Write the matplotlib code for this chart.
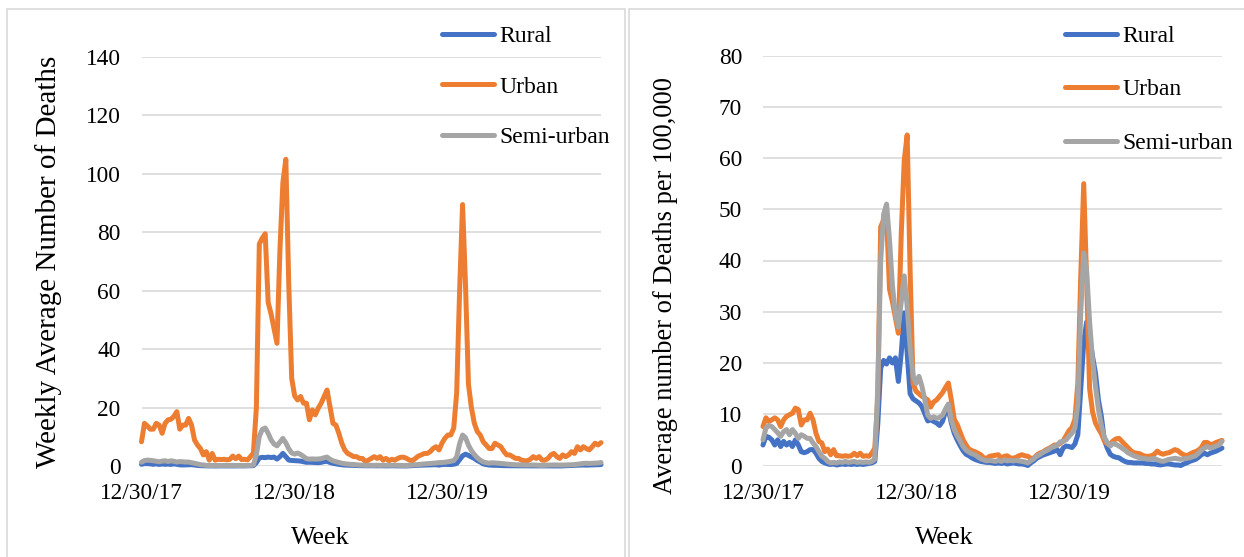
import matplotlib
matplotlib.use("Agg")
import matplotlib.pyplot as plt
from matplotlib.patches import Rectangle
import numpy as np

plt.rcParams['font.family'] = ['Liberation Serif', 'DejaVu Serif']

# weekly series, first week = 12/30/17
tick_weeks = [0, 52, 104]
tick_labels = ['12/30/17', '12/30/18', '12/30/19']
series_names = ['Rural', 'Urban', 'Semi-urban']
colors = ['#4472C4', '#ED7D31', '#A5A5A5']

# left chart: weekly average number of deaths
rural_count = [
    0.58, 0.83, 0.80, 0.73, 0.58, 0.73, 0.54, 0.68, 0.58, 0.65,
    0.54, 0.73, 0.58, 0.39, 0.36, 0.39, 0.45, 0.45, 0.35, 0.20,
    0.12, 0.07, 0.04, 0.03, 0.04, 0.01, 0.03, 0.04, 0.03, 0.04,
    0.03, 0.04, 0.03, 0.04, 0.03, 0.04, 0.06, 0.07, 0.12, 1.16,
    2.76, 2.97, 2.87, 3.05, 2.90, 3.05, 2.38, 3.19, 4.32, 3.19,
    2.03, 1.89, 1.83, 1.77, 1.67, 1.46, 1.26, 1.29, 1.25, 1.20,
    1.13, 1.25, 1.52, 1.60, 1.20, 0.91, 0.73, 0.57, 0.42, 0.32,
    0.28, 0.22, 0.17, 0.15, 0.12, 0.10, 0.09, 0.09, 0.07, 0.06,
    0.07, 0.06, 0.07, 0.04, 0.06, 0.07, 0.06, 0.04, 0.04, 0.03,
    0.00, 0.07, 0.13, 0.20, 0.25, 0.29, 0.32, 0.35, 0.38, 0.41,
    0.45, 0.30, 0.49, 0.55, 0.54, 0.51, 0.61, 0.87, 2.18, 3.48,
    4.06, 3.63, 3.09, 2.61, 1.86, 1.39, 0.73, 0.49, 0.32, 0.26,
    0.23, 0.22, 0.16, 0.12, 0.09, 0.09, 0.07, 0.07, 0.07, 0.07,
    0.06, 0.06, 0.04, 0.04, 0.03, 0.01, 0.03, 0.04, 0.04, 0.03,
    0.01, 0.01, 0.00, 0.04, 0.07, 0.12, 0.15, 0.17, 0.23, 0.30,
    0.35, 0.30, 0.35, 0.38, 0.41, 0.45, 0.49]
urban_count = [
    8.3, 14.6, 13.7, 12.6, 12.6, 14.6, 14.0, 11.2, 14.6, 15.8,
    16.0, 17.0, 18.6, 12.6, 14.0, 14.0, 16.3, 14.0, 8.9, 7.2,
    6.0, 3.8, 4.9, 2.0, 4.3, 2.0, 2.3, 2.2, 2.3, 2.1,
    2.3, 3.4, 2.5, 3.4, 2.2, 2.3, 2.1, 3.2, 4.5, 20.0,
    76.0, 78.0, 79.5, 56.0, 52.0, 47.0, 42.0, 74.0, 97.0, 105.0,
    62.0, 30.0, 24.0, 22.6, 23.8, 21.5, 21.5, 15.8, 19.2, 17.5,
    19.8, 21.5, 23.8, 26.0, 20.3, 14.6, 14.0, 11.2, 7.8, 5.5,
    4.3, 3.8, 3.2, 3.2, 2.6, 2.6, 1.5, 2.0, 2.6, 3.2,
    2.6, 3.2, 2.0, 2.6, 1.8, 2.3, 2.0, 2.6, 3.0, 3.0,
    2.6, 2.0, 1.8, 2.6, 3.4, 3.8, 4.3, 4.3, 4.9, 6.0,
    6.6, 5.5, 7.8, 9.5, 10.6, 10.6, 13.0, 25.0, 60.0, 89.5,
    62.0, 28.0, 20.0, 14.6, 11.8, 10.6, 8.3, 7.2, 6.0, 6.0,
    7.8, 7.2, 6.6, 5.0, 3.8, 3.8, 3.2, 2.6, 2.6, 2.0,
    1.8, 1.8, 2.3, 3.2, 2.6, 3.2, 2.0, 2.0, 2.6, 3.8,
    4.3, 3.2, 2.6, 3.8, 3.2, 3.8, 4.9, 4.3, 6.6, 5.5,
    6.6, 6.0, 5.5, 6.6, 7.8, 7.2, 8.0]
semi_count = [
    1.28, 1.86, 1.99, 1.94, 1.79, 1.63, 1.45, 1.68, 1.79, 1.53,
    1.79, 1.61, 1.35, 1.53, 1.45, 1.35, 1.35, 1.12, 0.94, 0.69,
    0.46, 0.36, 0.20, 0.13, 0.15, 0.13, 0.18, 0.15, 0.20, 0.15,
    0.18, 0.20, 0.15, 0.18, 0.15, 0.18, 0.15, 0.20, 0.31, 3.83,
    10.2, 12.5, 13.0, 11.2, 8.93, 7.52, 6.89, 8.16, 9.44, 7.91,
    5.87, 4.46, 4.08, 4.44, 3.95, 3.26, 2.50, 2.35, 2.42, 2.35,
    2.40, 2.50, 2.81, 3.06, 2.27, 1.79, 1.48, 1.22, 0.94, 0.77,
    0.66, 0.59, 0.54, 0.43, 0.33, 0.28, 0.23, 0.26, 0.23, 0.20,
    0.26, 0.20, 0.28, 0.23, 0.26, 0.23, 0.26, 0.23, 0.20, 0.18,
    0.13, 0.23, 0.33, 0.46, 0.54, 0.64, 0.71, 0.79, 0.89, 0.94,
    1.02, 1.17, 1.20, 1.28, 1.45, 1.61, 1.86, 3.06, 7.65, 10.6,
    9.69, 7.14, 5.25, 3.93, 2.81, 1.99, 1.40, 1.15, 0.97, 1.10,
    1.05, 0.97, 0.87, 0.77, 0.64, 0.56, 0.48, 0.43, 0.38, 0.36,
    0.33, 0.31, 0.33, 0.36, 0.28, 0.23, 0.20, 0.26, 0.31, 0.33,
    0.36, 0.33, 0.31, 0.33, 0.36, 0.38, 0.43, 0.48, 0.61, 0.77,
    0.87, 0.94, 0.87, 0.92, 0.97, 1.02, 1.20]

# right chart: deaths per 100,000
rural_rate = [
    4.0, 5.7, 5.5, 5.0, 4.0, 5.0, 3.7, 4.7, 4.0, 4.5,
    3.7, 5.0, 4.0, 2.7, 2.5, 2.7, 3.1, 3.1, 2.4, 1.4,
    0.8, 0.5, 0.3, 0.2, 0.3, 0.1, 0.2, 0.3, 0.2, 0.3,
    0.2, 0.3, 0.2, 0.3, 0.2, 0.3, 0.4, 0.5, 0.8, 8.0,
    19.0, 20.5, 19.8, 21.0, 20.0, 21.0, 16.4, 22.0, 29.8, 22.0,
    14.0, 13.0, 12.6, 12.2, 11.5, 10.1, 8.7, 8.9, 8.6, 8.3,
    7.8, 8.6, 10.5, 11.0, 8.3, 6.3, 5.0, 3.9, 2.9, 2.2,
    1.9, 1.5, 1.2, 1.0, 0.8, 0.7, 0.6, 0.6, 0.5, 0.4,
    0.5, 0.4, 0.5, 0.3, 0.4, 0.5, 0.4, 0.3, 0.3, 0.2,
    0.0, 0.5, 0.9, 1.4, 1.7, 2.0, 2.2, 2.4, 2.6, 2.8,
    3.1, 2.1, 3.4, 3.8, 3.7, 3.5, 4.2, 6.0, 15.0, 24.0,
    28.0, 25.0, 21.3, 18.0, 12.8, 9.6, 5.0, 3.4, 2.2, 1.8,
    1.6, 1.5, 1.1, 0.8, 0.6, 0.6, 0.5, 0.5, 0.5, 0.5,
    0.4, 0.4, 0.3, 0.3, 0.2, 0.1, 0.2, 0.3, 0.3, 0.2,
    0.1, 0.1, 0.0, 0.3, 0.5, 0.8, 1.0, 1.2, 1.6, 2.1,
    2.4, 2.1, 2.4, 2.6, 2.8, 3.1, 3.4]
urban_rate = [
    7.6, 9.3, 8.6, 8.9, 9.3, 8.9, 7.6, 8.9, 9.6, 9.9,
    10.2, 11.2, 10.9, 7.9, 8.9, 8.9, 10.2, 8.9, 6.3, 4.7,
    4.4, 2.7, 3.2, 2.1, 3.1, 1.9, 1.9, 1.8, 1.9, 1.8,
    1.9, 2.4, 1.9, 2.4, 1.8, 1.9, 1.8, 2.4, 3.4, 13.0,
    46.6, 47.9, 48.5, 34.4, 31.9, 28.8, 25.8, 45.4, 59.5, 64.5,
    38.0, 16.0, 14.5, 14.0, 13.5, 13.2, 12.8, 11.4, 12.4, 12.8,
    13.5, 14.2, 15.2, 16.1, 12.8, 9.0, 8.0, 6.5, 5.0, 4.0,
    3.2, 2.9, 2.7, 2.4, 2.1, 1.5, 1.4, 1.8, 1.9, 2.0,
    2.1, 1.4, 1.8, 1.9, 1.5, 1.4, 1.6, 1.9, 2.1, 1.9,
    1.8, 1.4, 1.4, 2.0, 2.4, 2.6, 3.0, 3.3, 3.6, 4.0,
    4.0, 4.3, 4.8, 5.8, 6.8, 7.4, 9.0, 16.0, 37.0, 55.0,
    36.0, 15.0, 10.5, 8.3, 7.2, 6.2, 4.8, 4.2, 4.2, 4.8,
    5.2, 5.3, 4.7, 4.1, 3.5, 2.9, 2.5, 2.4, 2.3, 2.0,
    1.8, 1.8, 1.9, 2.2, 2.8, 2.4, 2.2, 2.4, 2.5, 2.8,
    3.1, 2.9, 2.4, 2.1, 1.9, 2.2, 2.5, 2.7, 3.0, 3.5,
    4.5, 4.5, 4.1, 4.2, 4.5, 4.7, 4.9]
semi_rate = [
    5.0, 7.3, 7.8, 7.6, 7.0, 6.4, 5.7, 6.6, 7.0, 6.0,
    7.0, 6.3, 5.3, 6.0, 5.7, 5.3, 5.3, 4.4, 3.7, 2.7,
    1.8, 1.4, 0.8, 0.5, 0.6, 0.5, 0.7, 0.6, 0.8, 0.6,
    0.7, 0.8, 0.6, 0.7, 0.6, 0.7, 0.6, 0.8, 1.2, 15.0,
    40.0, 49.0, 51.0, 44.0, 35.0, 29.5, 27.0, 32.0, 37.0, 31.0,
    23.0, 17.5, 16.0, 17.4, 15.5, 12.8, 9.8, 9.2, 9.5, 9.2,
    9.4, 9.8, 11.0, 12.0, 8.9, 7.0, 5.8, 4.8, 3.7, 3.0,
    2.6, 2.3, 2.1, 1.7, 1.3, 1.1, 0.9, 1.0, 0.9, 0.8,
    1.0, 0.8, 1.1, 0.9, 1.0, 0.9, 1.0, 0.9, 0.8, 0.7,
    0.5, 0.9, 1.3, 1.8, 2.1, 2.5, 2.8, 3.1, 3.5, 3.7,
    4.0, 4.6, 4.7, 5.0, 5.7, 6.3, 7.3, 12.0, 30.0, 41.5,
    38.0, 28.0, 20.6, 15.4, 11.0, 7.8, 5.5, 4.5, 3.8, 4.3,
    4.1, 3.8, 3.4, 3.0, 2.5, 2.2, 1.9, 1.7, 1.5, 1.4,
    1.3, 1.2, 1.3, 1.4, 1.1, 0.9, 0.8, 1.0, 1.2, 1.3,
    1.4, 1.3, 1.2, 1.3, 1.4, 1.5, 1.7, 1.9, 2.4, 3.0,
    3.4, 3.7, 3.4, 3.6, 3.8, 4.0, 4.7]

W, H = 1244, 557


def px(x0, y0, x1, y1):
    # pixel box -> figure fraction [left, bottom, width, height]
    return [x0 / W, 1 - y1 / H, (x1 - x0) / W, (y1 - y0) / H]


def draw_panel(fig, box, data, ymax, ystep, leg_xy, leg_space):
    ax = fig.add_axes(px(*box))
    weeks = np.arange(len(data[0]))
    for vals, name, c in zip(data, series_names, colors):
        ax.plot(weeks, vals, color=c, lw=3.6, label=name,
                solid_joinstyle='round', solid_capstyle='round', clip_on=False)
    ax.set_xlim(0, len(weeks) - 1)
    ax.set_ylim(0, ymax)
    ax.set_yticks(np.arange(0, ymax + 1, ystep))
    ax.set_xticks(tick_weeks)
    ax.set_xticklabels(tick_labels)
    ax.yaxis.grid(True, color='#D9D9D9', lw=1.2)
    ax.set_axisbelow(True)
    for s in ax.spines.values():
        s.set_visible(False)
    ax.tick_params(axis='both', length=0, labelsize=16.8, colors='black')
    ax.tick_params(axis='y', pad=15)
    ax.tick_params(axis='x', pad=12.5)
    ax.legend(loc='upper left', bbox_to_anchor=(leg_xy[0] / W, 1 - leg_xy[1] / H),
              bbox_transform=fig.transFigure, frameon=False, fontsize=17,
              handlelength=2.2, handletextpad=0.22, labelspacing=leg_space,
              borderpad=0, borderaxespad=0)
    return ax


fig = plt.figure(figsize=(W / 100, H / 100), dpi=100)

# chart borders
fig.add_artist(Rectangle((6.7 / W, -0.05), (624.7 - 6.7) / W, 1.05 - 9 / H,
                         transform=fig.transFigure, fill=False, ec='#D9D9D9', lw=1.2))
fig.add_artist(Rectangle((629.3 / W, -0.05), 0.6, 1.05 - 9 / H,
                         transform=fig.transFigure, fill=False, ec='#D9D9D9', lw=1.2))

draw_panel(fig, (141.5, 57, 601, 466), [rural_count, urban_count, semi_count],
           140, 20, (442, 25.5), 1.23)
draw_panel(fig, (763, 55.5, 1222, 465.5), [rural_rate, urban_rate, semi_rate],
           80, 10, (1065, 25.5), 1.35)

fig.text(49 / W, 1 - 262 / H, 'Weekly Average Number of Deaths', rotation=90,
         ha='center', va='center', fontsize=21)
fig.text(666 / W, 1 - 286 / H, 'Average number of Deaths per 100,000', rotation=90,
         ha='center', va='center', fontsize=19.1)
fig.text(320 / W, 1 - 538 / H, 'Week', ha='center', va='center', fontsize=18.7)
fig.text(944 / W, 1 - 538 / H, 'Week', ha='center', va='center', fontsize=18.7)

fig.savefig('out.png', dpi=100)
